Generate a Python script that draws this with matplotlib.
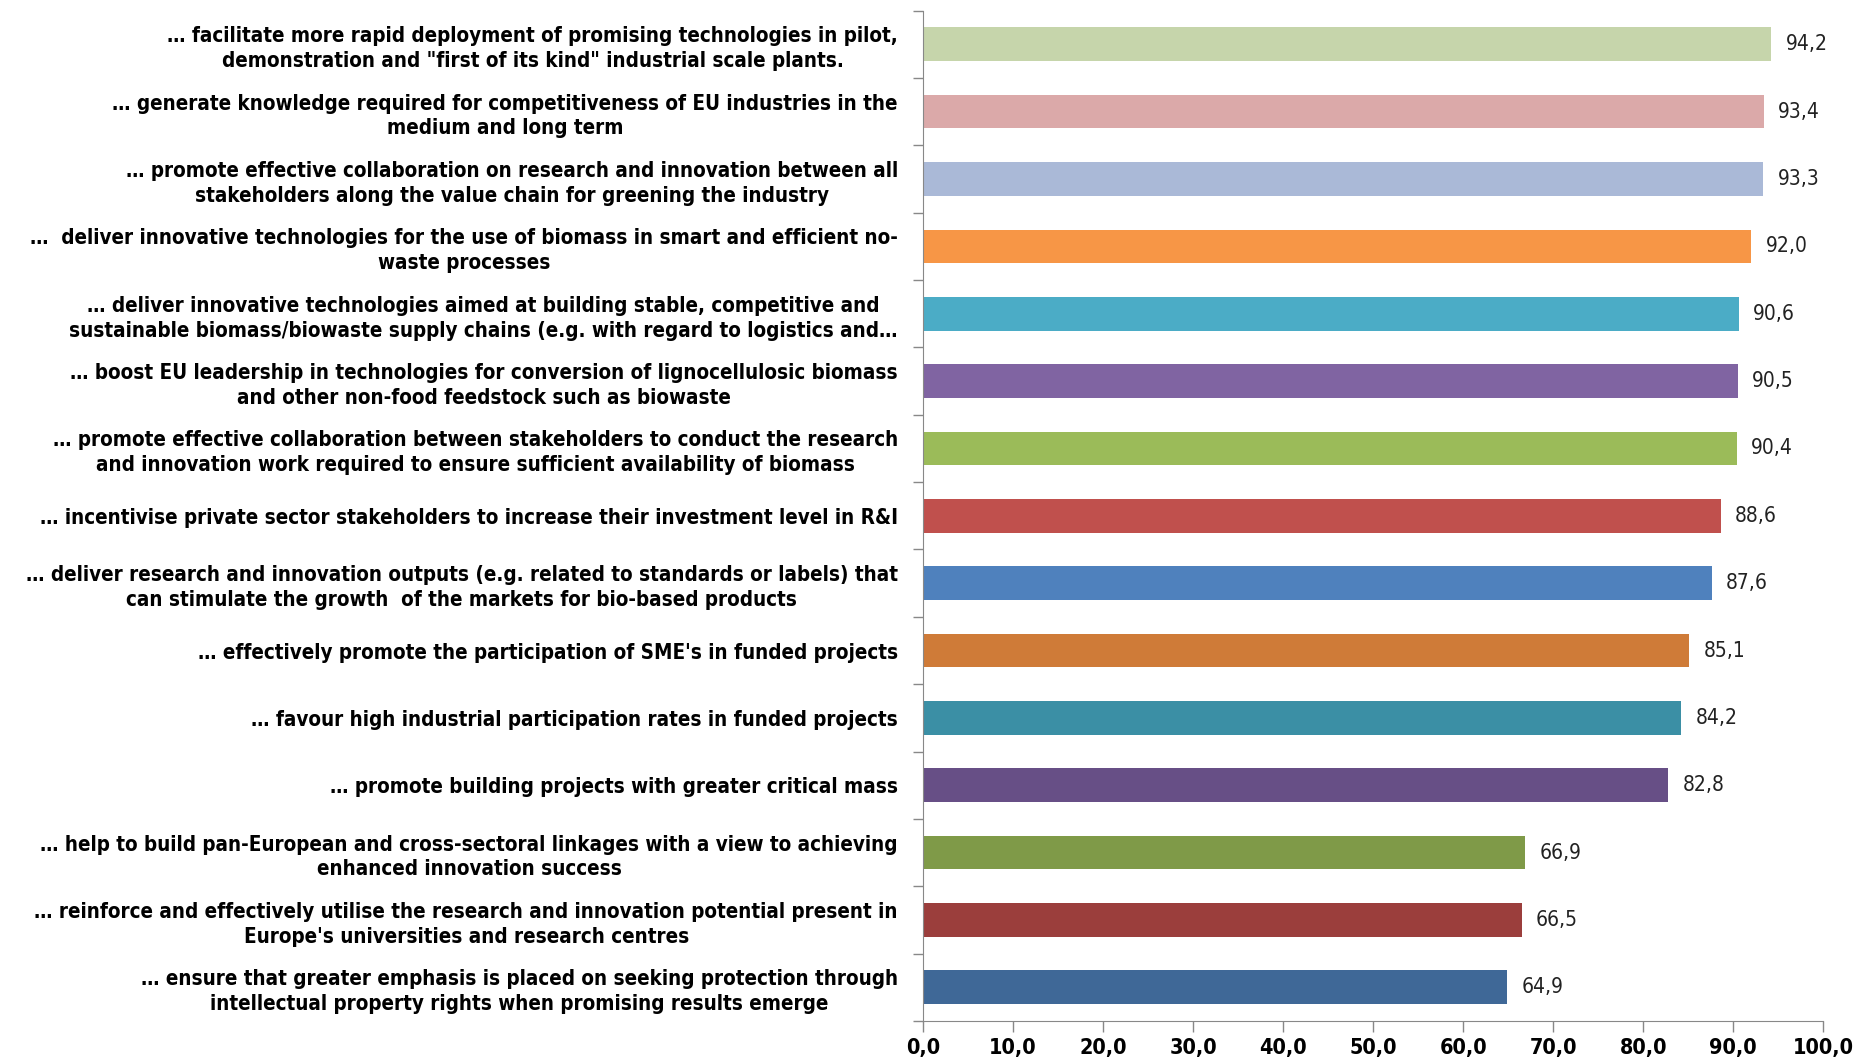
import matplotlib
matplotlib.use("Agg")
import matplotlib.pyplot as plt
import numpy as np

plt.rcParams['font.family'] = ['DejaVu Sans']

categories = [
    "… facilitate more rapid deployment of promising technologies in pilot,\ndemonstration and \"first of its kind\" industrial scale plants.",
    "… generate knowledge required for competitiveness of EU industries in the\nmedium and long term",
    "… promote effective collaboration on research and innovation between all\nstakeholders along the value chain for greening the industry",
    "…  deliver innovative technologies for the use of biomass in smart and efficient no-\nwaste processes",
    "… deliver innovative technologies aimed at building stable, competitive and\nsustainable biomass/biowaste supply chains (e.g. with regard to logistics and…",
    "… boost EU leadership in technologies for conversion of lignocellulosic biomass\nand other non-food feedstock such as biowaste",
    "… promote effective collaboration between stakeholders to conduct the research\nand innovation work required to ensure sufficient availability of biomass",
    "… incentivise private sector stakeholders to increase their investment level in R&I",
    "… deliver research and innovation outputs (e.g. related to standards or labels) that\ncan stimulate the growth  of the markets for bio-based products",
    "… effectively promote the participation of SME's in funded projects",
    "… favour high industrial participation rates in funded projects",
    "… promote building projects with greater critical mass",
    "… help to build pan-European and cross-sectoral linkages with a view to achieving\nenhanced innovation success",
    "… reinforce and effectively utilise the research and innovation potential present in\nEurope's universities and research centres",
    "… ensure that greater emphasis is placed on seeking protection through\nintellectual property rights when promising results emerge",
]
values = [94.2, 93.4, 93.3, 92.0, 90.6, 90.5, 90.4, 88.6, 87.6, 85.1, 84.2, 82.8, 66.9, 66.5, 64.9]
colors = ["#C6D5AB", "#DBA9A9", "#AAB9D7", "#F79646", "#4BACC6", "#8064A2", "#9BBB59",
          "#C0504D", "#4F81BD", "#CF7B38", "#3B8FA5", "#674F86", "#7F9A48", "#9B3E3C", "#3F6897"]
xticks = [0, 10, 20, 30, 40, 50, 60, 70, 80, 90, 100]

fig = plt.figure(figsize=(18.72, 10.62), dpi=100)
ax = fig.add_axes([0.493, 0.0386, 0.481, 0.9514])

y = np.arange(len(values))
ax.barh(y, values, height=0.5, color=colors)
ax.set_ylim(len(values) - 0.5, -0.5)
ax.set_xlim(0, 100)

for yi, v in zip(y, values):
    ax.text(v + 1.6, yi, f"{v:.1f}".replace('.', ','), va='center', ha='left',
            fontsize=15, fontstretch='condensed', color='#222222')

ax.set_yticks(y)
ax.set_yticklabels(categories)
for lbl in ax.get_yticklabels():
    lbl.set_fontsize(14.8)
    lbl.set_fontweight('bold')
    lbl.set_fontstretch('condensed')
    lbl.set_multialignment('center')
    lbl.set_linespacing(1.3)
ax.tick_params(axis='y', length=0, pad=18)
ax.set_yticks(np.arange(-0.5, len(values) + 0.5, 1), minor=True)
ax.tick_params(axis='y', which='minor', length=7, color='#888888', width=1)

ax.set_xticks(xticks)
ax.set_xticklabels([f"{t:.1f}".replace('.', ',') for t in xticks])
for lbl in ax.get_xticklabels():
    lbl.set_fontsize(15.5)
    lbl.set_fontweight('bold')
    lbl.set_fontstretch('condensed')
ax.tick_params(axis='x', length=8, color='#888888', width=1, pad=4)

for s in ['top', 'right']:
    ax.spines[s].set_visible(False)
for s in ['left', 'bottom']:
    ax.spines[s].set_color('#888888')

fig.savefig("out.png", dpi=100)
